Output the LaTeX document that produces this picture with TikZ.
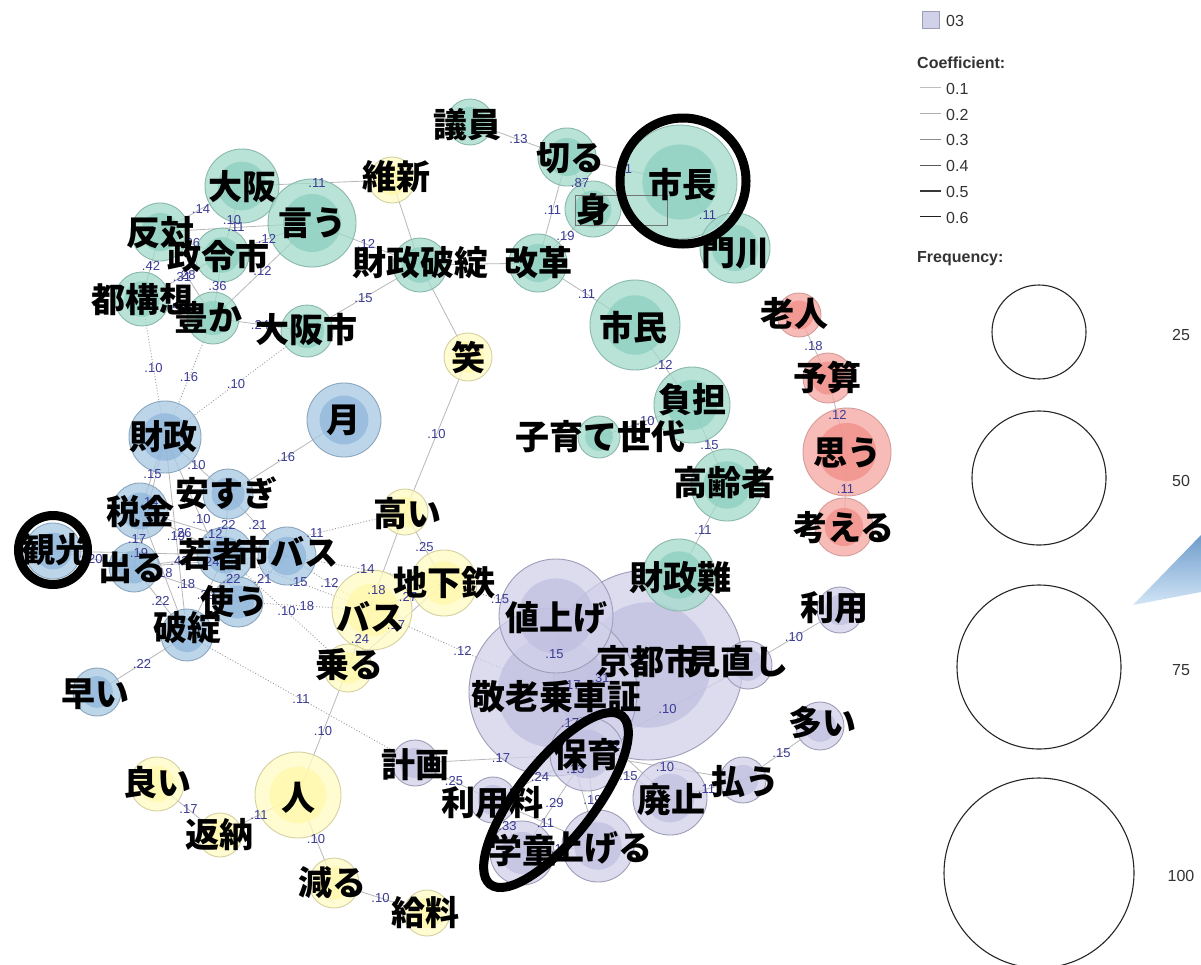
\documentclass[tikz,border=0pt]{standalone}
\usepackage{fontspec}
\usepackage{tikz}
\usetikzlibrary{shapes.geometric}
\newfontfamily\jpfont{Noto Sans CJK JP}
\newfontfamily\lgfont{Liberation Sans}
\definecolor{grnA}{HTML}{A3DACB}
\definecolor{grnB}{HTML}{8ACFBD}
\definecolor{grnC}{HTML}{8AB8AC}
\definecolor{bluA}{HTML}{A7C7E2}
\definecolor{bluB}{HTML}{8DB4DA}
\definecolor{bluC}{HTML}{8AA6BF}
\definecolor{yelA}{HTML}{FFFCC2}
\definecolor{yelB}{HTML}{FFF8A8}
\definecolor{yelC}{HTML}{D5D0A0}
\definecolor{redA}{HTML}{F5A6A1}
\definecolor{redB}{HTML}{F28B84}
\definecolor{redC}{HTML}{D49C98}
\definecolor{purA}{HTML}{D2D1EA}
\definecolor{purB}{HTML}{BEBDDF}
\definecolor{purC}{HTML}{9E9DB8}
\definecolor{elabc}{HTML}{3B3B96}
\definecolor{callA}{HTML}{6F9CCB}
\definecolor{callB}{HTML}{D2E5F6}
\pgfdeclarelayer{edges}
\pgfdeclarelayer{front}
\pgfsetlayers{edges,main,front}
\tikzset{
  kw/.style={circle,inner sep=0pt,line width=0.9pt},
  word/.style={font=\jpfont\bfseries\fontsize{34}{34}\selectfont,inner sep=0pt},
  ln/.style={draw=black!28,line width=0.8pt},
  dt/.style={draw=black!40,line width=0.9pt,dotted},
  elab/.style={font=\lgfont\fontsize{13}{13}\selectfont,text=elabc,inner sep=0pt},
  ring/.style={draw=black,line width=9pt,inner sep=0pt},
  lgtxt/.style={font=\lgfont\fontsize{16}{16}\selectfont,text=black!80,inner sep=0pt,anchor=west}
}
\def\wordlist{kyoto/648/665/95/pur/647/662/京都市,keiro/553/692/84/pur/556/697/敬老乗車証,
  neage/556/616/57/pur/556/618/値上げ,minaoshi/748/665/24/pur/737/662/見直し,
  riyo/840/610/23/pur/834/608/利用,oi/820/726/24/pur/822/722/多い,
  keikaku/415/763/23/pur/415/765/計画,hoiku/587/754/37/pur/587/755/保育,
  haishi/670/798/37/pur/671/800/廃止,harau/743/780/23/pur/745/782/払う,
  ryokin/493/800/23/pur/492/803/利用料,gakudo/522/853/32/pur/522/850/学童,
  ageru/598/846/36/pur/601/848/上げる,znan/679/575/36/grn/680/578/財政難,
  giin/470/122/23/grn/467/125/議員,kiru/567/157/29/grn/570/158/切る,
  mi/593/209/28/grn/593/210/身,shicho/680/182/57/grn/682/185/市長,
  kadokawa/735/248/35/grn/735/253/門川,kaikaku/538/263/29/grn/538/263/改革,
  zhatan/420/265/27/grn/420/263/財政破綻,shimin/635/325/45/grn/633/328/市民,
  futan/692/405/38/grn/692/400/負担,kosodate/599/437/21/grn/600/437/子育て世代,
  koreisha/727/485/36/grn/724/483/高齢者,osaka/242/186/37/grn/242/187/大阪,
  iu/312/223/44/grn/312/223/言う,hantai/160/232/29/grn/160/233/反対,
  seirei/222/255/27/grn/218/257/政令市,toko/142/299/27/grn/142/300/都構想,
  yutaka/213/318/26/grn/208/317/豊か,osakashi/307/331/26/grn/306/330/大阪市,
  ishin/392/180/23/yel/396/177/維新,warai/468/357/24/yel/468/358/笑,
  takai/405/512/23/yel/407/514/高い,chika/444/583/33/yel/444/583/地下鉄,
  bus/372/610/40/yel/370/617/バス,noru/348/668/24/yel/349/665/乗る,
  hito/298/795/43/yel/298/798/人,yoi/157/784/27/yel/157/783/良い,
  henno/220/835/22/yel/219/835/返納,heru/334/883/25/yel/332/883/減る,
  kyuryo/427/913/23/yel/425/913/給料,zaisei/165/437/36/blu/163/437/財政,
  tsuki/344/420/37/blu/343/420/月,yasusugi/228/494/25/blu/226/493/安すぎ,
  zeikin/140/511/28/blu/140/512/税金,kanko/53/551/28/blu/55/550/観光,
  deru/134/567/25/blu/132/568/出る,wakamono/225/555/28/blu/212/555/若者,
  shibus/287/556/29/blu/287/553/市バス,tsukau/238/602/25/blu/234/602/使う,
  hatan/187/635/26/blu/187/628/破綻,hayai/97/692/24/blu/95/694/早い,
  rojin/799/315/22/red/794/313/老人,yosan/828/378/25/red/827/377/予算,
  omou/847/452/44/red/847/453/思う,kangaeru/844/527/29/red/844/528/考える}
\begin{document}
\begin{tikzpicture}[x=1pt,y=-1pt]
  \useasboundingbox (0,0) rectangle (1201,964);
  \begin{pgfonlayer}{edges}
    \fill[white] (0,0) rectangle (1201,964);
  \end{pgfonlayer}
  \foreach \nm/\x/\y/\rad/\col/\tx/\ty/\lbl in \wordlist {
    \fill[\col A,fill opacity=.75] (\x,\y) circle[radius=\rad pt];
    \fill[\col B,fill opacity=.7] (\x,\y) circle[radius=0.66*\rad pt];
    \node[kw,draw=\col C,minimum size=2*\rad pt] (\nm) at (\x,\y) {};
  }
  \draw[black!55,line width=0.6pt] (575,195) rectangle (667,225);
  \foreach \ea/\eb/\ew/\es in {giin/kiru/.13/ln,kiru/shicho/.11/ln,kiru/mi/.87/ln,kiru/kaikaku/.11/ln,
    mi/kaikaku/.19/ln,shicho/kadokawa/.11/ln,zhatan/kaikaku/{}/ln,kaikaku/shimin/.11/ln,
    shimin/futan/.12/ln,futan/kosodate/.10/ln,futan/koreisha/.15/ln,koreisha/znan/.11/ln,
    ishin/zhatan/{}/ln,zhatan/warai/{}/ln,osaka/ishin/.11/ln,iu/zhatan/.12/ln,
    osakashi/zhatan/.15/ln,osaka/hantai/.14/ln,osaka/seirei/.10/ln,iu/hantai/.11/ln,
    iu/seirei/.12/ln,iu/yutaka/.12/ln,hantai/seirei/.26/ln,hantai/toko/.42/ln,
    toko/seirei/.31/ln,hantai/yutaka/.28/ln,seirei/yutaka/.36/ln,toko/yutaka/.53/ln,
    yutaka/osakashi/.24/ln,toko/zaisei/.10/dt,yutaka/zaisei/.16/dt,osakashi/zaisei/.10/dt,
    zaisei/zeikin/.15/ln,zaisei/yasusugi/.10/ln,yasusugi/tsuki/.16/ln,zaisei/deru/.14/ln,
    zaisei/tsukau/.10/ln,zeikin/wakamono/.26/ln,zaisei/hatan/.19/ln,zeikin/shibus/.12/ln,
    yasusugi/wakamono/.22/ln,yasusugi/shibus/.21/ln,zeikin/deru/.17/ln,kanko/wakamono/.19/ln,
    kanko/deru/.20/ln,deru/wakamono/.43/ln,zeikin/hatan/.18/ln,deru/shibus/.24/ln,
    wakamono/tsukau/.22/ln,shibus/tsukau/.21/ln,wakamono/bus/.15/dt,shibus/bus/.12/dt,
    wakamono/takai/.11/dt,shibus/chika/.14/dt,deru/tsukau/.18/ln,hatan/wakamono/.29/ln,
    deru/hatan/.22/ln,tsukau/bus/.18/dt,wakamono/noru/.10/dt,hatan/hayai/.22/ln,
    hatan/keikaku/.11/dt,bus/noru/.24/ln,bus/chika/.27/ln,takai/noru/.18/ln,
    chika/noru/.17/ln,takai/chika/.25/ln,warai/takai/.10/ln,chika/neage/.15/dt,
    bus/keiro/.12/dt,noru/hito/.10/ln,yoi/henno/.17/ln,hito/henno/.11/ln,
    hito/heru/.10/ln,heru/kyuryo/.10/ln,neage/keiro/.15/ln,neage/hoiku/.17/ln,
    keiro/kyoto/.31/ln,keiro/hoiku/.17/ln,minaoshi/hoiku/.10/ln,minaoshi/riyo/.10/ln,
    oi/harau/.15/ln,harau/haishi/.11/ln,hoiku/harau/.10/ln,hoiku/haishi/.15/ln,
    keiro/haishi/.22/ln,keikaku/hoiku/.17/ln,keikaku/ryokin/.25/ln,ryokin/hoiku/.24/ln,
    keiro/ageru/.13/ln,ryokin/ageru/.11/ln,hoiku/gakudo/.29/ln,hoiku/ageru/.19/ln,
    ryokin/gakudo/.33/ln,gakudo/ageru/.16/ln,rojin/yosan/.18/ln,yosan/omou/.12/ln,
    omou/kangaeru/.11/ln} {
    \begin{pgfonlayer}{edges}
      \draw[\es] (\ea.center) -- (\eb.center);
    \end{pgfonlayer}
    \begin{pgfonlayer}{front}
      \path (\ea.center) -- node[elab] {\ew} (\eb.center);
    \end{pgfonlayer}
  }
  \begin{pgfonlayer}{front}
    \foreach \nm/\x/\y/\rad/\col/\tx/\ty/\lbl in \wordlist
      \node[word] (\nm-t) at (\tx,\ty) {\lbl};
    \node[ring,circle,minimum size=126pt] (shicho-ring) at (683,181) {};
    \node[ring,circle,minimum size=69pt] (kanko-ring) at (53,550) {};
    \node[ring,ellipse,rotate=52,minimum width=214pt,minimum height=76pt] (gakudo-ring) at (556,800) {};
  \end{pgfonlayer}
  % legend
  \node[draw=purC,fill=purA,minimum size=17pt,inner sep=0pt] (sq03) at (931,20) {};
  \node[lgtxt] (lg03) at (946,21) {03};
  \node[lgtxt,font=\lgfont\bfseries\fontsize{16}{16}\selectfont] (coef) at (917,63) {Coefficient:};
  \foreach \v/\g [count=\i] in {0.1/25,0.2/32,0.3/45,0.4/65,0.5/78,0.6/88} {
    \draw[black!\g,line width=1.3pt] (920,62+25.8*\i) -- (941,62+25.8*\i);
    \node[lgtxt] (coef\i) at (946,63+25.8*\i) {\v};
  }
  \node[lgtxt,font=\lgfont\bfseries\fontsize{16}{16}\selectfont] (freq) at (917,259) {Frequency:};
  \foreach \f/\cy/\rad in {25/332/47,50/478/67,75/667/82,100/873/95} {
    \draw[black!85,line width=1.1pt] (1039,\cy) circle[radius=\rad pt];
    \node[lgtxt,anchor=center] (freq\f) at (1181,\cy+3) {\f};
  }
  \shade[top color=callA,bottom color=callB] (1133,605) -- (1201,535) -- (1201,592) -- cycle;
\end{tikzpicture}
\end{document}
